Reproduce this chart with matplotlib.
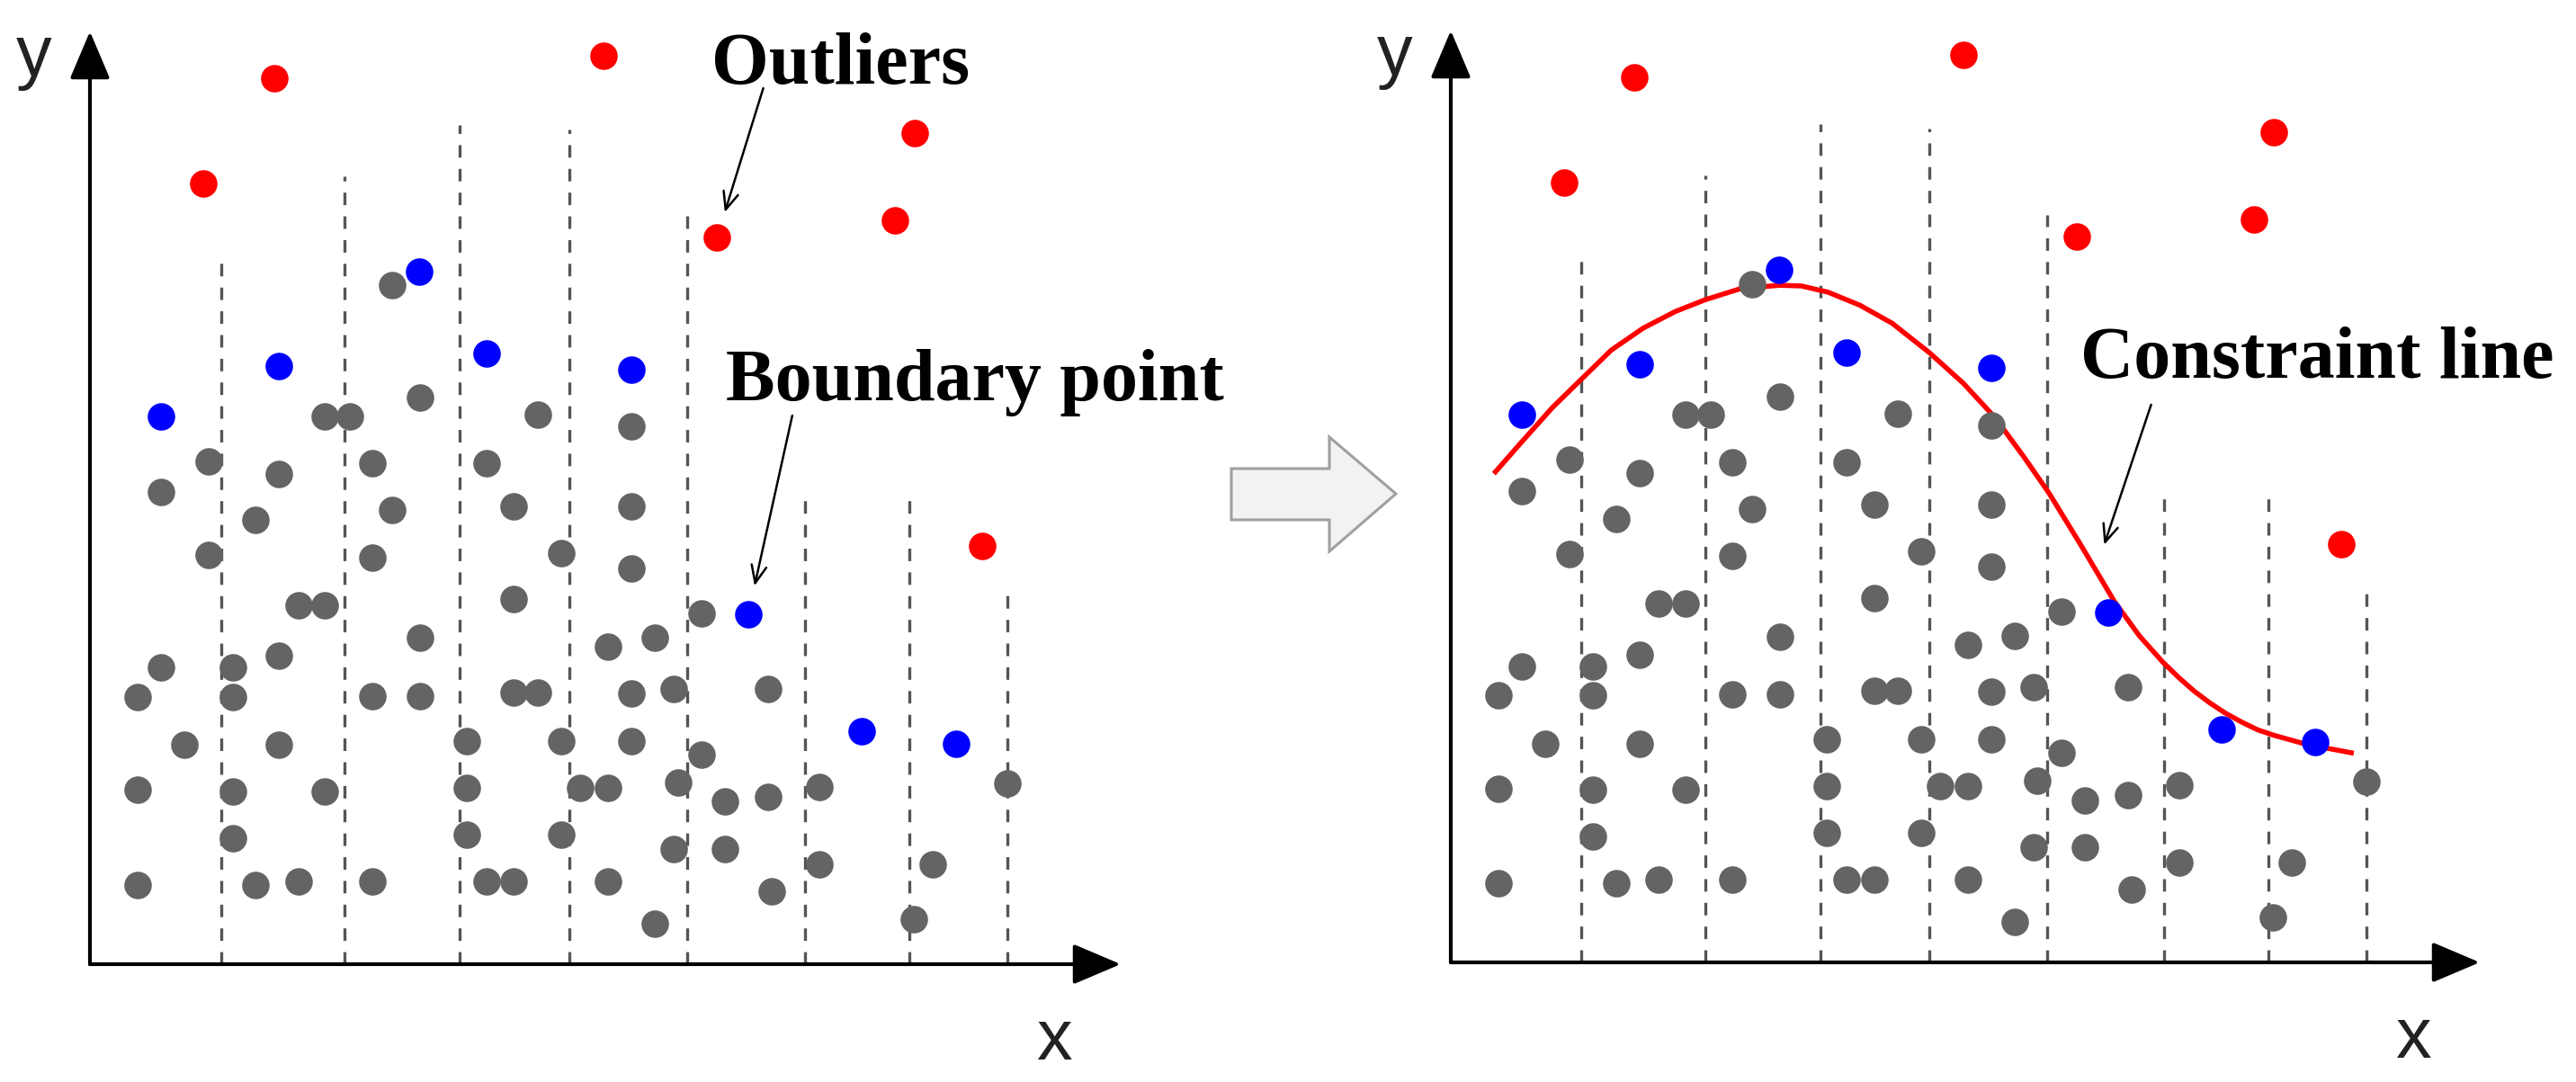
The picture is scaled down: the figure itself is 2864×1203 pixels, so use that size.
import matplotlib
matplotlib.use('Agg')
import matplotlib.pyplot as plt
import matplotlib.transforms as mtransforms
from matplotlib.patches import Polygon

# grey points (same cloud in both panels)
gray_x = [385, 421, 300, 332, 571, 691, 152, 360, 506, 91, 241, 211, 385, 541, 691, 152, 360, 601,
          691, 266, 300, 541, 780, 421, 661, 721, 91, 182, 241, 61, 182, 360, 421, 541, 571, 691,
          745, 865, 121, 241, 481, 601, 691, 780, 61, 182, 300, 481, 625, 661, 750, 810, 865, 931,
          1170, 182, 481, 601, 745, 810, 931, 1075, 61, 211, 266, 360, 506, 541, 661, 870, 721, 1051]
gray_y = [983, 820, 793, 793, 795, 778, 728, 725, 725, 683, 709, 643, 657, 663, 663, 592, 589, 595,
          573, 520, 520, 528, 508, 472, 460, 473, 429, 429, 446, 387, 387, 388, 388, 393, 393, 392,
          399, 399, 317, 317, 323, 323, 323, 303, 252, 250, 250, 255, 255, 255, 263, 235, 242, 257,
          262, 182, 187, 187, 167, 167, 145, 145, 115, 115, 120, 120, 120, 120, 120, 105, 58, 65]

# outliers (red)
red_x = [145, 235, 655, 800, 1027, 1052, 1138]
red_y = [1130, 1282, 1315, 1052, 1077, 1203, 606]

# boundary points (blue)
blue_x = [91, 241, 420, 506, 691, 840, 985, 1105]
blue_y = [793, 866, 1003, 884, 861, 507, 337, 319]

# dashed interval lines
bin_x = [167, 325, 472, 612, 762, 912, 1045, 1170]
bin_top = [1018, 1140, 1214, 1208, 1083, 675, 675, 543]

# constraint line
curve_x = [55, 89, 130, 167, 205, 246, 287, 325, 370, 420, 448, 482, 523, 564, 612, 655, 695, 732,
           765, 805, 848, 880, 910, 930, 950, 970, 990, 1011, 1031, 1052, 1093, 1154]
curve_y = [708, 752, 804, 845, 887, 919, 943, 960, 976, 981, 980, 971, 952, 926, 883, 839, 790, 733,
           679, 605, 523, 473, 435, 413, 393, 376, 361, 348, 337, 329, 316, 303]

plt.rcParams['lines.scale_dashes'] = False

W, H = 2864, 1203
fig = plt.figure(figsize=(W / 100, H / 100), dpi=100)

ax1 = fig.add_axes([100 / W, 131 / H, 1146 / W, 1037 / H])
ax2 = fig.add_axes([1613 / W, 133 / H, 1144 / W, 1036 / H])

label_font = dict(family=['Liberation Serif', 'DejaVu Serif'], fontweight='bold', fontsize=59)
axis_font = dict(family=['Liberation Sans Narrow', 'Liberation Sans', 'DejaVu Sans'], fontsize=57,
                 color='#222222')

for ax in (ax1, ax2):
    ax.set_xlim(0, 1315)
    ax.set_ylim(0, 1350)
    ax.axis('off')

    # axes with arrow heads
    head = dict(arrowstyle='-|>,head_length=33,head_width=14', mutation_scale=1, lw=3,
                color='black', shrinkA=0, shrinkB=0)
    ax.annotate('', xy=(1315, 0), xytext=(0, 0), arrowprops=head, annotation_clip=False)
    ax.annotate('', xy=(0, 1350), xytext=(0, 0), arrowprops=head, annotation_clip=False)
    ax.text(-49, 1286, 'y', ha='right', va='baseline', **axis_font)
    ax.text(1230, -138, 'x', ha='center', va='baseline', **axis_font)

    # dashed interval lines
    for bx, bt in zip(bin_x, bin_top):
        ax.plot([bx, bx], [0, bt], color='#555555', lw=2.4, dashes=(10, 9), zorder=1)

    ax.plot(gray_x, gray_y, 'o', color='#646464', ms=22, mec='none', zorder=3, clip_on=False)
    ax.plot(red_x, red_y, 'o', color='#ff0000', ms=22, mec='none', zorder=4, clip_on=False)
    ax.plot(blue_x, blue_y, 'o', color='#0000ff', ms=22, mec='none', zorder=4, clip_on=False)

# right panel: constraint line
ax2.plot(curve_x, curve_y, color='#ff0000', lw=4, zorder=2, solid_capstyle='butt',
         solid_joinstyle='round')

pointer = dict(arrowstyle='->,head_length=14,head_width=6', mutation_scale=1, lw=1.8,
               color='black', shrinkA=0)

# left panel labels
ax1.text(793, 1274, 'Outliers', ha='left', va='baseline', **label_font)
ax1.annotate('', xy=(red_x[3], red_y[3]), xytext=(859, 1268),
             arrowprops=dict(pointer, shrinkB=21), annotation_clip=False)
ax1.text(811, 816, 'Boundary point', ha='left', va='baseline', **label_font)
ax1.annotate('', xy=(blue_x[5], blue_y[5]), xytext=(896, 794),
             arrowprops=dict(pointer, shrinkB=23), annotation_clip=False)

# right panel label
ax2.text(805, 847, 'Constraint line', ha='left', va='baseline', **label_font)
ax2.annotate('', xy=(835, 605), xytext=(895, 808),
             arrowprops=dict(pointer, shrinkB=0), annotation_clip=False)

# hollow block arrow between the panels (figure pixel coordinates, y down)
px = mtransforms.Affine2D().scale(1 / W, -1 / H).translate(0, 1) + fig.transFigure
block = Polygon([(1369, 521), (1478, 521), (1478, 486), (1552, 549), (1478, 613), (1478, 578),
                 (1369, 578)], closed=True, facecolor='#f2f2f2', edgecolor='#a0a0a0', lw=2.2,
                transform=px)
fig.add_artist(block)

fig.savefig('out.png', dpi=100, facecolor='white')
